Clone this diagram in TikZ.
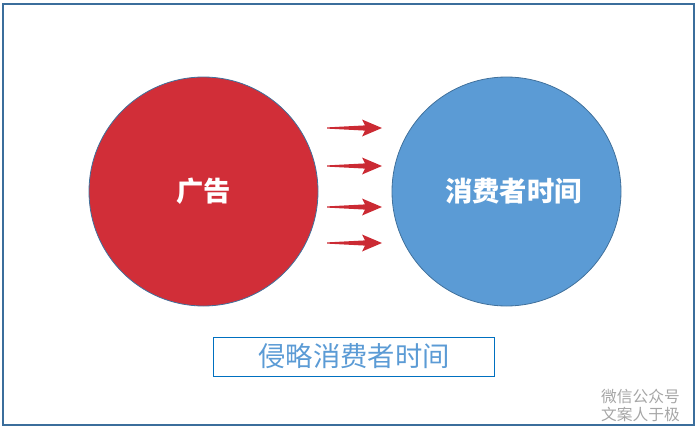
\documentclass[tikz,border=0pt]{standalone}
\usepackage{fontspec}
\newfontfamily\cjk{Noto Sans CJK SC}
\usetikzlibrary{positioning}
\definecolor{FrameBlue}{HTML}{3B6E9C}
\definecolor{AdRed}{HTML}{D12E38}
\definecolor{TimeBlue}{HTML}{5B9BD5}
\definecolor{EdgeBlue}{HTML}{41719C}
\definecolor{ArrowRed}{HTML}{CB2A33}
\definecolor{BoxBlue}{HTML}{0070C0}
\definecolor{MarkGray}{HTML}{A6A6A6}
\tikzset{
    disc/.style = {draw=EdgeBlue, line width=0.6pt, circle,
        minimum size=171.75pt, inner sep=0pt,
        text=white, font=\cjk\bfseries\fontsize{20.5}{22}\selectfont},
    titlebox/.style = {draw=BoxBlue, line width=0.75pt, rectangle,
        minimum width=210.75pt, minimum height=29.25pt,
        text=TimeBlue, font=\cjk\fontsize{20.5}{22}\selectfont},
    watermark/.style = {text=MarkGray, align=left, font=\cjk\fontsize{11.8}{13.5}\selectfont}
}
\begin{document}
\begin{tikzpicture}[x=0.75pt,y=-0.75pt]
        \useasboundingbox (0,0) rectangle (697,429);
        \draw[FrameBlue, line width=1.5pt] (3,3.5) rectangle (693.5,424.5);
        \node[disc, fill=AdRed] (ad) at (203.5,191.5) {广告};
        \node[disc, fill=TimeBlue] (time) at (506.5,191.5) {};
        \node[text=white, font=\cjk\bfseries\fontsize{20.5}{22}\selectfont] (timetext) at (513.5,191.5) {消费者时间};
        \node[titlebox] (invade) at (353.5,356.5) {};
        \node[text=TimeBlue, font=\cjk\fontsize{20.5}{22}\selectfont] (invadetext) at (354,356) {侵略消费者时间};
        \node[watermark, anchor=south east, inner sep=0pt] (wechat) at (680,422) {微信公众号\\文案人于极};
        \foreach \y in {128,166,207,243}{
            \fill[ArrowRed] (327,\y-0.6) -- (365,\y-2.6) -- (362,\y-8.5) -- (382,\y)
                -- (362,\y+8.5) -- (365,\y+2.6) -- (327,\y+0.6) -- cycle;
        }
        \end{tikzpicture}
\end{document}
